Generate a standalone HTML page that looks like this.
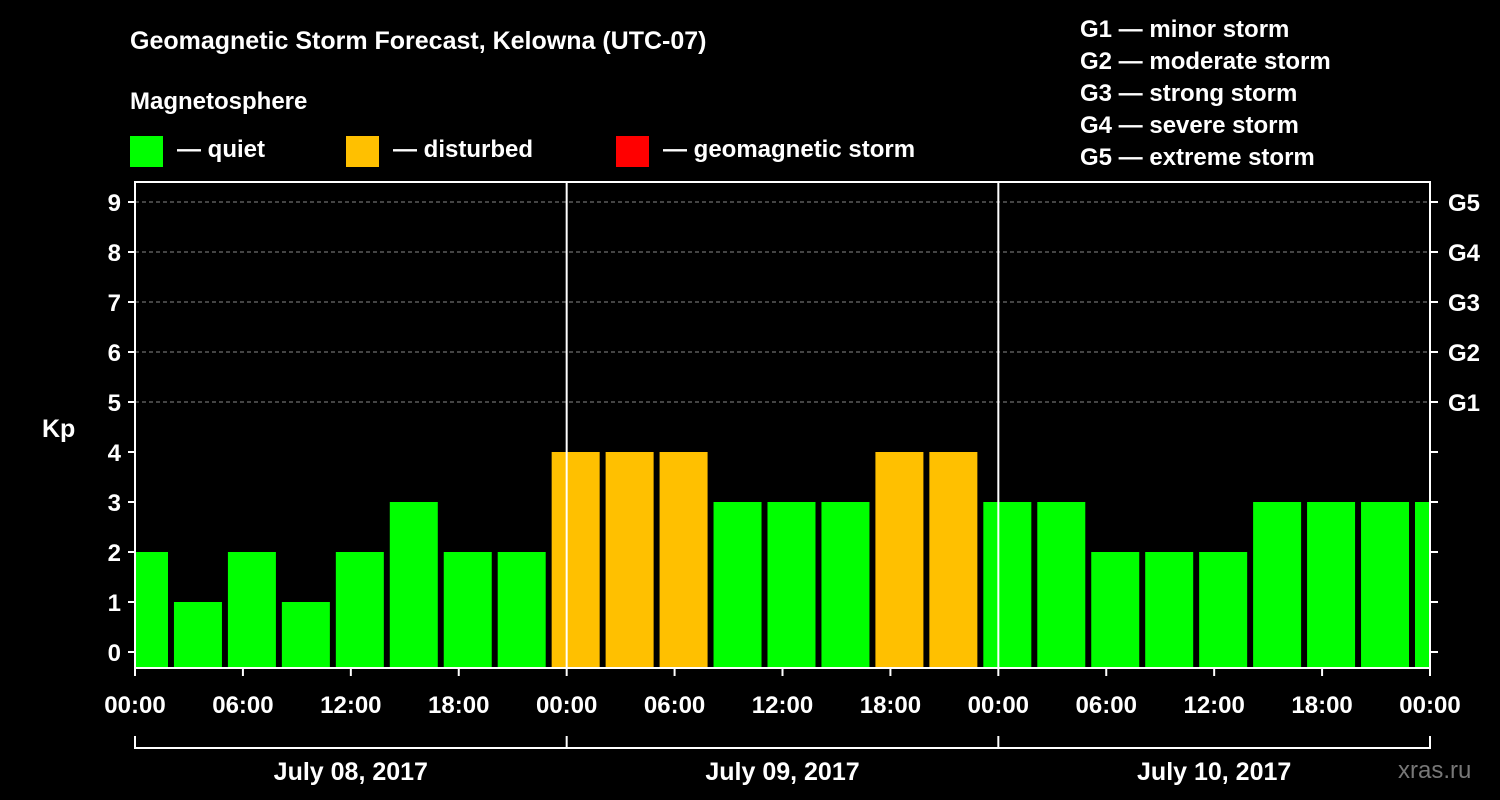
<!DOCTYPE html>
<html><head><meta charset="utf-8"><style>
html,body{margin:0;padding:0;background:#000;}
svg{display:block;font-family:"Liberation Sans",Arial,sans-serif;font-weight:bold;}
</style></head><body>
<svg id="chart" width="1500" height="800" viewBox="0 0 1500 800">
<rect x="0" y="0" width="1500" height="800" fill="#000"/>
<text x="130" y="49" fill="#fff" font-size="25">Geomagnetic Storm Forecast, Kelowna (UTC-07)</text>
<text x="130" y="109" fill="#fff" font-size="24">Magnetosphere</text>
<g><rect x="130" y="136" width="33" height="31" fill="#00ff00"/><text x="177" y="157" fill="#fff" font-size="24">— quiet</text></g>
<g><rect x="346" y="136" width="33" height="31" fill="#ffc000"/><text x="393" y="157" fill="#fff" font-size="24">— disturbed</text></g>
<g><rect x="616" y="136" width="33" height="31" fill="#ff0000"/><text x="663" y="157" fill="#fff" font-size="24">— geomagnetic storm</text></g>
<g fill="#fff" font-size="24">
<text x="1080" y="37">G1 — minor storm</text>
<text x="1080" y="69">G2 — moderate storm</text>
<text x="1080" y="101">G3 — strong storm</text>
<text x="1080" y="133">G4 — severe storm</text>
<text x="1080" y="165">G5 — extreme storm</text>
</g>
<text x="42" y="437" fill="#fff" font-size="25">Kp</text>
<defs><clipPath id="pc"><rect x="135" y="182" width="1295" height="486"/></clipPath></defs>
<g id="grid"></g>
<g id="bars" clip-path="url(#pc)"></g>
<g id="axes"></g>
<text x="1398" y="778" fill="#777" font-size="24" font-weight="normal">xras.ru</text>
</svg>
<script>
const kpValues = [2,1,2,1,2,3,2,2,4,4,4,3,3,3,4,4,3,3,2,2,2,3,3,3,3];
const yTicks = [0,1,2,3,4,5,6,7,8,9];
const gLabels = ["G1","G2","G3","G4","G5"];
const xTickLabels = ["00:00","06:00","12:00","18:00","00:00","06:00","12:00","18:00","00:00","06:00","12:00","18:00","00:00"];
const dayLabels = ["July 08, 2017","July 09, 2017","July 10, 2017"];

const NS="http://www.w3.org/2000/svg";
const L=135,R=1430,T=182,B=668;
const pxPerHour=(R-L)/72;
const y=v=>652-50*v;
const x=h=>L+h*pxPerHour;
function mk(tag,attrs,parent){const e=document.createElementNS(NS,tag);for(const k in attrs)e.setAttribute(k,attrs[k]);parent.appendChild(e);return e;}
const grid=document.getElementById('grid'),bars=document.getElementById('bars'),axes=document.getElementById('axes');

// bars
kpValues.forEach((v,i)=>{
  const c=x(0.5+3*i);
  const col=v>=5?"#ff0000":(v>=4?"#ffc000":"#00ff00");
  const r=mk('rect',{x:c-24,y:y(v),width:48,height:B-y(v),fill:col},bars);
  
  
});
// gridlines
yTicks.filter(v=>v>=5).forEach(v=>{
  const g=mk('line',{x1:L,x2:R,y1:y(v),y2:y(v),stroke:'#888','stroke-dasharray':'4,3','stroke-width':1},grid);
  
  
});
// day separators
for(let d=1;d<3;d++){
  const s=mk('line',{x1:x(24*d),x2:x(24*d),y1:T,y2:B,stroke:'#fff','stroke-width':2},axes);
  
  
}
// frame
const fr=mk('rect',{x:L,y:T,width:R-L,height:B-T,fill:'none',stroke:'#fff','stroke-width':2},axes);


// y ticks
yTicks.forEach(v=>{
  mk('line',{x1:L-7,x2:L,y1:y(v),y2:y(v),stroke:'#fff','stroke-width':2},axes);
  mk('line',{x1:R,x2:R+8,y1:y(v),y2:y(v),stroke:'#fff','stroke-width':2},axes);
  const t=mk('text',{x:L-14,y:y(v)+9,fill:'#fff','font-size':24,'text-anchor':'end'},axes);
  t.textContent=v;
  
  
});
gLabels.forEach((g,i)=>{
  const t=mk('text',{x:R+18,y:y(5+i)+9,fill:'#fff','font-size':24},axes);
  t.textContent=g;
  
  
});
// x ticks
xTickLabels.forEach((lab,i)=>{
  const xx=x(6*i);
  mk('line',{x1:xx,x2:xx,y1:B,y2:B+8,stroke:'#fff','stroke-width':2},axes);
  const t=mk('text',{x:xx,y:713,fill:'#fff','font-size':24,'text-anchor':'middle'},axes);
  t.textContent=lab;
  
  
});
// date bracket
mk('line',{x1:L,x2:R,y1:748,y2:748,stroke:'#fff','stroke-width':2},axes);
for(let d=0;d<=3;d++)mk('line',{x1:x(24*d),x2:x(24*d),y1:736,y2:749,stroke:'#fff','stroke-width':2},axes);
dayLabels.forEach((lab,i)=>{
  const t=mk('text',{x:x(24*i+12),y:780,fill:'#fff','font-size':25,'text-anchor':'middle'},axes);
  t.textContent=lab;
  
  
});
</script>
</body></html>
